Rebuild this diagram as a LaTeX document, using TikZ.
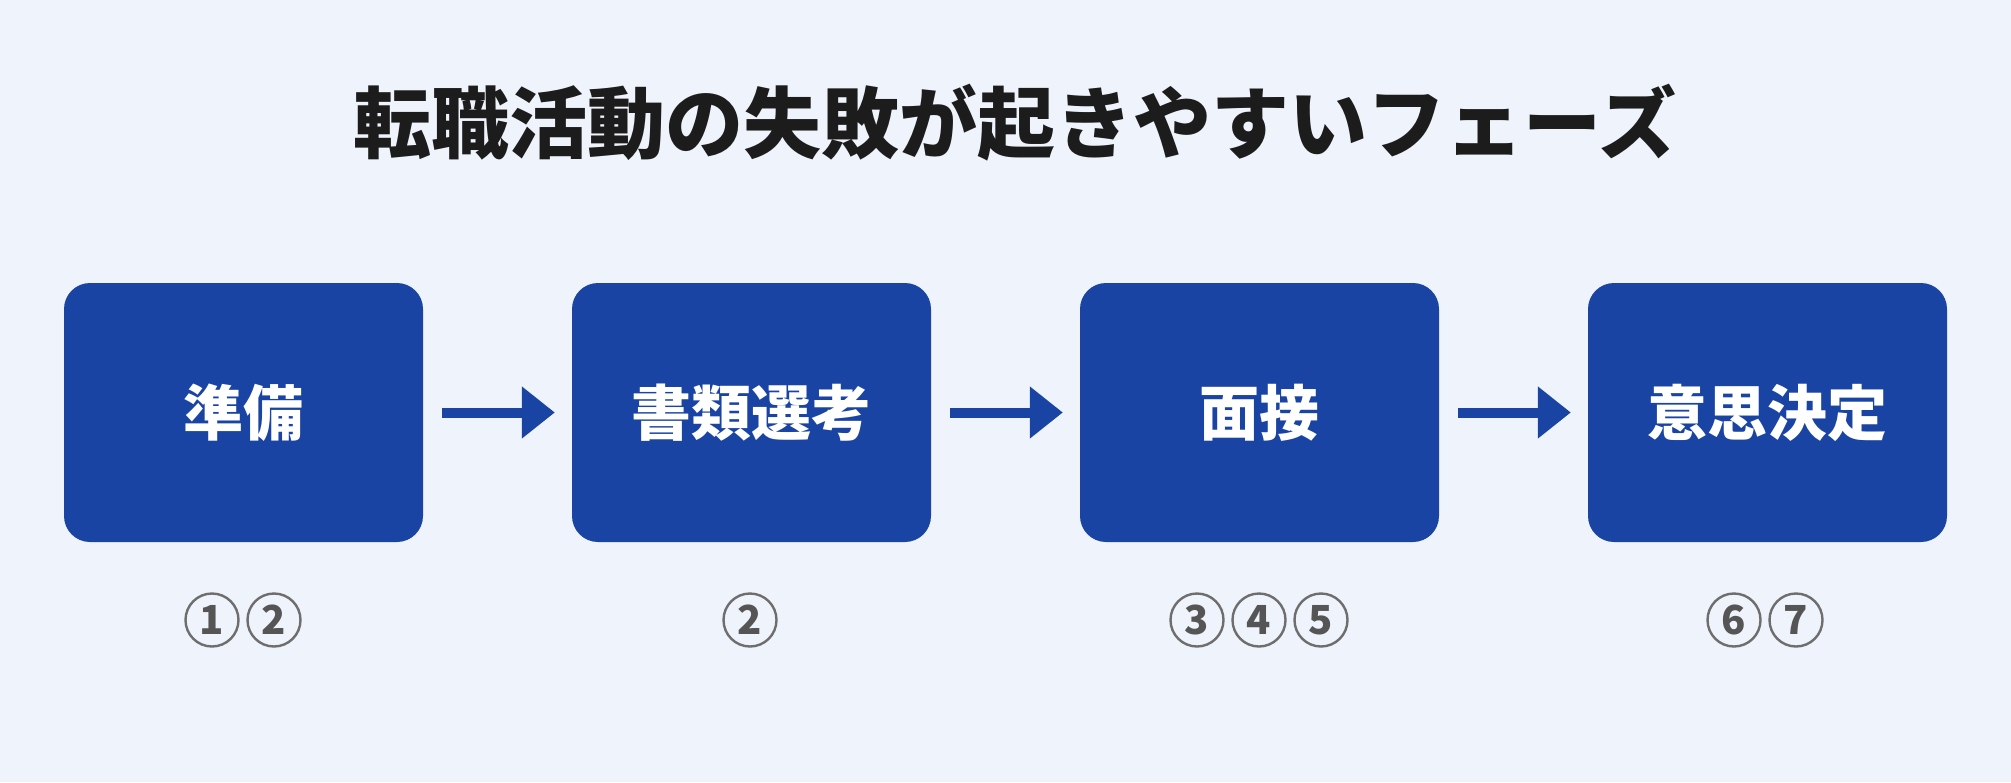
\documentclass[tikz,border=0pt]{standalone}
\usepackage{fontspec}
\newfontfamily\jp{Noto Sans CJK JP}
\usetikzlibrary{arrows.meta,positioning}
\definecolor{bgc}{HTML}{EFF3FB}
\definecolor{boxblue}{HTML}{1A44A3}
\definecolor{titlec}{HTML}{1C1C1C}
\definecolor{numgray}{HTML}{555555}
\definecolor{ringgray}{HTML}{6E6E6E}
\tikzset{
  phase/.style={fill=boxblue, rounded corners=26pt, minimum width=359pt, minimum height=259pt,
    inner sep=0pt, text=white, font=\jp\bfseries\fontsize{60}{72}\selectfont},
  flowarrow/.style={draw=boxblue, line width=10pt, -{Triangle[length=33pt,width=50pt]}},
  cnum/.style={circle, draw=ringgray, line width=2.4pt, minimum size=53pt, inner sep=0pt,
    text=numgray, font=\jp\bfseries\fontsize{40}{40}\selectfont},
  titletext/.style={text=titlec, font=\jp\bfseries\fontsize{78}{90}\selectfont}
}
\begin{document}
\begin{tikzpicture}[x=1pt,y=-1pt]
\fill[bgc] (0,0) rectangle (2011,782);
\useasboundingbox (0,0) rectangle (2011,782);
\node[titletext] (title) at (1015,123) {転職活動の失敗が起きやすいフェーズ};
\node[phase] (b1) at (243.5,412.5) {準備};
\node[phase] (b2) at (751.5,412.5) {書類選考};
\node[phase] (b3) at (1259.5,412.5) {面接};
\node[phase] (b4) at (1767.5,412.5) {意思決定};
\draw[flowarrow] ([xshift=19pt]b1.east) -- ([xshift=-17pt]b2.west);
\draw[flowarrow] ([xshift=19pt]b2.east) -- ([xshift=-17pt]b3.west);
\draw[flowarrow] ([xshift=19pt]b3.east) -- ([xshift=-17pt]b4.west);
\node[cnum] (n1a) at (212,620) {1};
\node[cnum] (n1b) at (274,620) {2};
\node[cnum] (n2a) at (750,620) {2};
\node[cnum] (n3a) at (1197,620) {3};
\node[cnum] (n3b) at (1259,620) {4};
\node[cnum] (n3c) at (1321,620) {5};
\node[cnum] (n4a) at (1734,620) {6};
\node[cnum] (n4b) at (1796,620) {7};
\end{tikzpicture}
\end{document}
